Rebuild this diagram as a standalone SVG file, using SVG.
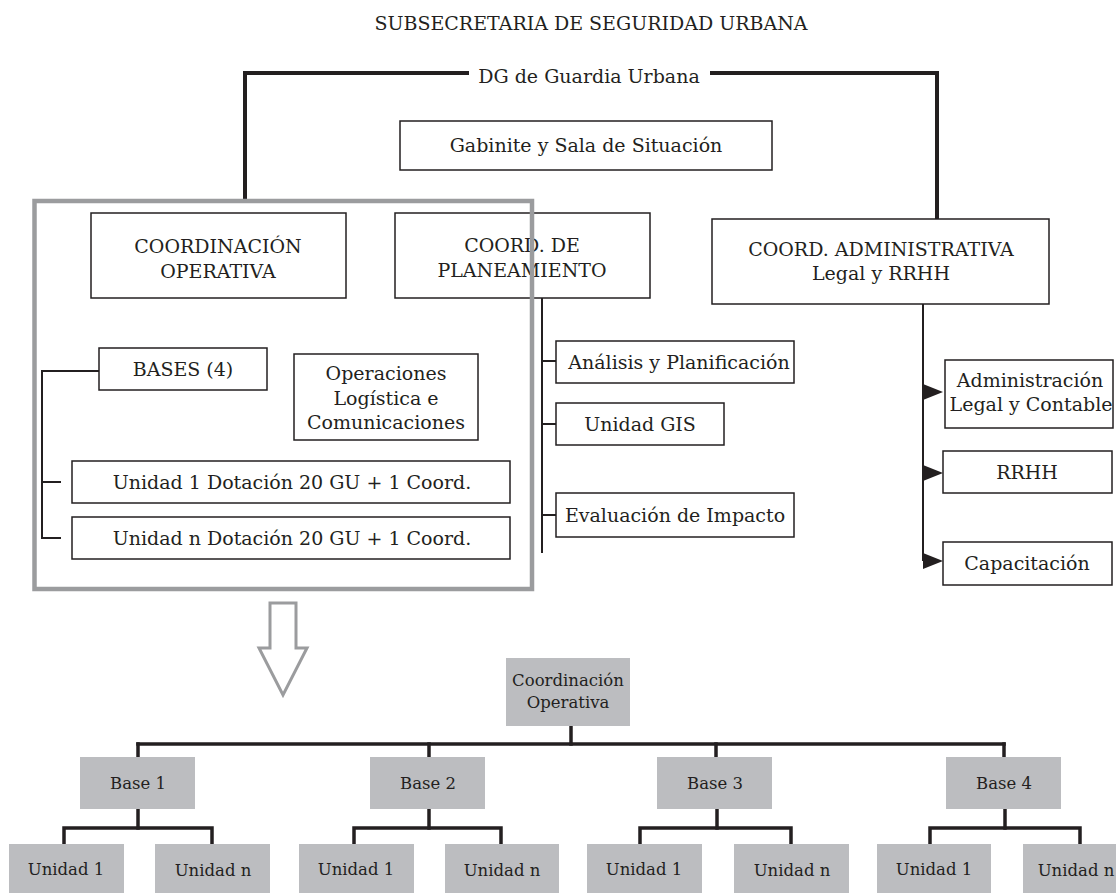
<svg xmlns="http://www.w3.org/2000/svg" width="1116" height="893" viewBox="0 0 1116 893">
<style>
.t{font-family:"DejaVu Serif","Liberation Serif",serif;font-size:19px;fill:#231f20;text-anchor:middle}
.s{font-size:16.5px}
.box{fill:#fff;stroke:#231f20;stroke-width:1.5}
.gbox{fill:#bcbdc0}
.c{fill:none;stroke:#231f20;stroke-linecap:square}
.thick{stroke-width:4}
.mid{stroke-width:3.5}
.thin{stroke-width:2}
.arr{fill:#231f20}
</style>
<rect width="1116" height="893" fill="#fff"/>
<text class="t" x="591" y="30">SUBSECRETARIA DE SEGURIDAD URBANA</text>

<g id="connectors">
  <polyline class="c thick" points="467,73 245,73 245,199"/>
  <polyline class="c thick" points="712,73 937,73 937,219"/>
  <polyline class="c thin" points="99,371 42,371 42,538 60,538"/>
  <line class="c thin" x1="42" y1="482" x2="60" y2="482"/>
  <line class="c thin" x1="542" y1="298" x2="542" y2="552"/>
  <line class="c thin" x1="542" y1="361" x2="556" y2="361"/>
  <line class="c thin" x1="542" y1="424" x2="556" y2="424"/>
  <line class="c thin" x1="542" y1="515" x2="556" y2="515"/>
  <line class="c thin" x1="923" y1="304" x2="923" y2="560"/>
  <polygon class="arr" points="923,384 943,392 923,400"/>
  <polygon class="arr" points="923,465 943,473 923,481"/>
  <polygon class="arr" points="923,553 943,561 923,569"/>
  <line class="c mid" x1="571" y1="726" x2="571" y2="744"/>
  <line class="c mid" x1="138" y1="744" x2="1004" y2="744"/>
  <line class="c mid" x1="138" y1="744" x2="138" y2="757"/>
  <line class="c mid" x1="429" y1="744" x2="429" y2="757"/>
  <line class="c mid" x1="716" y1="744" x2="716" y2="757"/>
  <line class="c mid" x1="1004" y1="744" x2="1004" y2="757"/>
  <line class="c mid" x1="138" y1="809" x2="138" y2="828"/>
  <polyline class="c mid" points="64,844 64,828 212,828 212,844"/>
  <line class="c mid" x1="429" y1="809" x2="429" y2="828"/>
  <polyline class="c mid" points="354,844 354,828 501,828 501,844"/>
  <line class="c mid" x1="717" y1="809" x2="717" y2="828"/>
  <polyline class="c mid" points="640,844 640,828 791,828 791,844"/>
  <line class="c mid" x1="1005" y1="809" x2="1005" y2="828"/>
  <polyline class="c mid" points="930,844 930,828 1080,828 1080,844"/>
</g>

<g id="dg"><text class="t" x="589" y="83">DG de Guardia Urbana</text></g>
<g id="gabinete"><rect class="box" x="400" y="121" width="372" height="49"/><text class="t" x="586" y="152">Gabinite y Sala de Situación</text></g>
<g id="coord-operativa"><rect class="box" x="91" y="213" width="255" height="85"/><text class="t" x="218" y="253">COORDINACIÓN</text><text class="t" x="218" y="278">OPERATIVA</text></g>
<g id="coord-planeamiento"><rect class="box" x="395" y="213" width="255" height="85"/><text class="t" x="522" y="252">COORD. DE</text><text class="t" x="522" y="277">PLANEAMIENTO</text></g>
<g id="coord-admin"><rect class="box" x="712" y="219" width="337" height="85"/><text class="t" x="881" y="256">COORD. ADMINISTRATIVA</text><text class="t" x="881" y="280">Legal y RRHH</text></g>
<g id="bases"><rect class="box" x="99" y="348" width="168" height="42"/><text class="t" x="183" y="376">BASES (4)</text></g>
<g id="operaciones"><rect class="box" x="294" y="354" width="184" height="86"/><text class="t" x="386" y="380">Operaciones</text><text class="t" x="386" y="405">Logística e</text><text class="t" x="386" y="429">Comunicaciones</text></g>
<g id="unidad-1-dot"><rect class="box" x="72" y="461" width="438" height="42"/><text class="t" x="292" y="489">Unidad 1 Dotación 20 GU + 1 Coord.</text></g>
<g id="unidad-n-dot"><rect class="box" x="72" y="517" width="438" height="42"/><text class="t" x="292" y="545">Unidad n Dotación 20 GU + 1 Coord.</text></g>
<g id="analisis"><rect class="box" x="556" y="341" width="238" height="42"/><text class="t" x="679" y="369">Análisis y Planificación</text></g>
<g id="gis"><rect class="box" x="556" y="403" width="168" height="42"/><text class="t" x="640" y="431">Unidad GIS</text></g>
<g id="evaluacion"><rect class="box" x="556" y="493" width="238" height="44"/><text class="t" x="675" y="522">Evaluación de Impacto</text></g>
<g id="administracion"><rect class="box" x="945" y="360" width="168" height="68"/><text class="t" x="1030" y="387">Administración</text><text class="t" x="1031" y="411">Legal y Contable</text></g>
<g id="rrhh"><rect class="box" x="943" y="451" width="169" height="42"/><text class="t" x="1027" y="479">RRHH</text></g>
<g id="capacitacion"><rect class="box" x="943" y="542" width="169" height="43"/><text class="t" x="1027" y="570">Capacitación</text></g>

<g id="frame"><rect x="34.5" y="201" width="497.5" height="388" fill="none" stroke="#9b9c9e" stroke-width="4.5"/></g>
<g id="arrow-down"><polygon points="270,603 296,603 296,648 307,648 283,695 259,648 270,648" fill="#fff" stroke="#9b9c9e" stroke-width="3" stroke-linejoin="miter"/></g>

<g id="coordinacion-operativa"><rect class="gbox" x="506" y="658" width="124" height="68"/><text class="t s" x="568" y="686">Coordinación</text><text class="t s" x="568" y="708">Operativa</text></g>
<g id="base-1"><rect class="gbox" x="80" y="757" width="115" height="52"/><text class="t s" x="138" y="789">Base 1</text></g>
<g id="base-2"><rect class="gbox" x="370" y="757" width="115" height="52"/><text class="t s" x="428" y="789">Base 2</text></g>
<g id="base-3"><rect class="gbox" x="657" y="757" width="115" height="52"/><text class="t s" x="715" y="789">Base 3</text></g>
<g id="base-4"><rect class="gbox" x="946" y="757" width="115" height="52"/><text class="t s" x="1004" y="789">Base 4</text></g>
<g id="b1-u1"><rect class="gbox" x="9" y="844" width="115" height="49"/><text class="t s" x="66" y="875">Unidad 1</text></g>
<g id="b1-un"><rect class="gbox" x="155" y="844" width="115" height="49"/><text class="t s" x="213" y="876">Unidad n</text></g>
<g id="b2-u1"><rect class="gbox" x="299" y="844" width="115" height="49"/><text class="t s" x="356" y="875">Unidad 1</text></g>
<g id="b2-un"><rect class="gbox" x="445" y="844" width="114" height="49"/><text class="t s" x="502" y="876">Unidad n</text></g>
<g id="b3-u1"><rect class="gbox" x="587" y="844" width="115" height="49"/><text class="t s" x="644" y="875">Unidad 1</text></g>
<g id="b3-un"><rect class="gbox" x="734" y="844" width="115" height="49"/><text class="t s" x="792" y="876">Unidad n</text></g>
<g id="b4-u1"><rect class="gbox" x="877" y="844" width="114" height="49"/><text class="t s" x="934" y="875">Unidad 1</text></g>
<g id="b4-un"><rect class="gbox" x="1023" y="844" width="115" height="49"/><text class="t s" x="1076" y="876">Unidad n</text></g>
</svg>
